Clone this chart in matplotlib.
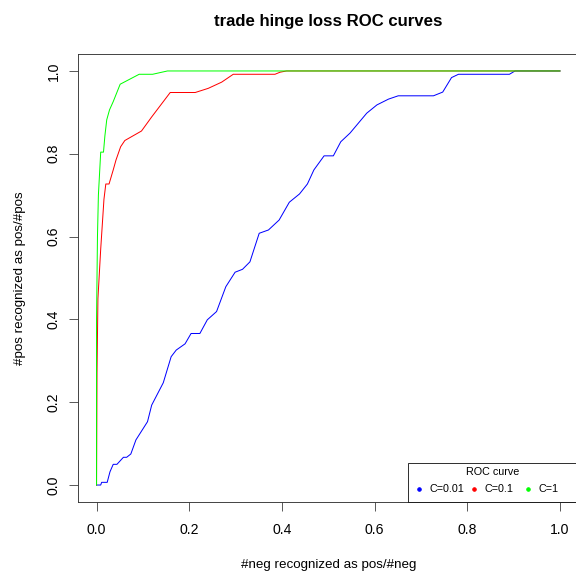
import matplotlib
matplotlib.use("Agg")
import matplotlib.pyplot as plt
from matplotlib.patches import Rectangle

plt.rcParams["font.family"] = ["Liberation Sans", "DejaVu Sans"]

# ROC curves (false positive rate, true positive rate)
fpr_c001 = [0, 0.009, 0.011, 0.023, 0.029, 0.036, 0.044, 0.058, 0.065, 0.074,
            0.085, 0.110, 0.119, 0.144, 0.161, 0.172, 0.191, 0.204, 0.223, 0.239,
            0.259, 0.279, 0.299, 0.315, 0.331, 0.351, 0.371, 0.394, 0.416, 0.438,
            0.455, 0.469, 0.491, 0.511, 0.527, 0.547, 0.583, 0.605, 0.630, 0.651,
            0.727, 0.747, 0.766, 0.781, 0.891, 0.903, 1.0]
tpr_c001 = [0, 0, 0.0065, 0.0065, 0.032, 0.050, 0.050, 0.067, 0.067, 0.075,
            0.109, 0.153, 0.193, 0.247, 0.310, 0.326, 0.341, 0.366, 0.366, 0.399,
            0.419, 0.479, 0.514, 0.521, 0.539, 0.608, 0.616, 0.640, 0.683, 0.703,
            0.727, 0.761, 0.795, 0.795, 0.829, 0.850, 0.898, 0.918, 0.932, 0.940,
            0.940, 0.949, 0.984, 0.992, 0.992, 1.0, 1.0]

fpr_c01 = [0, 0.001, 0.003, 0.009, 0.016, 0.020, 0.027, 0.036, 0.042, 0.052,
           0.061, 0.097, 0.119, 0.159, 0.213, 0.241, 0.270, 0.295, 0.385, 0.396,
           0.41, 1.0]
tpr_c01 = [0, 0.27, 0.45, 0.57, 0.69, 0.727, 0.727, 0.761, 0.785, 0.817,
           0.832, 0.855, 0.889, 0.948, 0.948, 0.958, 0.973, 0.992, 0.992, 0.997,
           1.0, 1.0]

fpr_c1 = [0, 0, 0.002, 0.004, 0.009, 0.015, 0.018, 0.022, 0.028, 0.036,
          0.051, 0.092, 0.121, 0.153, 1.0]
tpr_c1 = [0, 0.40, 0.60, 0.70, 0.804, 0.804, 0.843, 0.882, 0.906, 0.926,
          0.968, 0.992, 0.992, 1.0, 1.0]

labels = ["C=0.01", "C=0.1", "C=1"]
colors = ["blue", "red", "#00ff00"]
ticks = [0.0, 0.2, 0.4, 0.6, 0.8, 1.0]

fig = plt.figure(figsize=(8, 573 / 72), dpi=72)
ax = fig.add_axes([78 / 576, 1 - 501.6 / 573, 500.5 / 576, 447.2 / 573])

ax.plot(fpr_c001, tpr_c001, color=colors[0], lw=1.0)
ax.plot(fpr_c01, tpr_c01, color=colors[1], lw=1.0)
ax.plot(fpr_c1, tpr_c1, color=colors[2], lw=1.0)

ax.set_xlim(-0.04, 1.04)
ax.set_ylim(-0.04, 1.04)
ax.set_xticks(ticks)
ax.set_yticks(ticks)
ax.set_xticklabels([f"{t:.1f}" for t in ticks])
ax.set_yticklabels([f"{t:.1f}" for t in ticks], rotation=90, va="center")
ax.tick_params(length=9, width=0.8, labelsize=14, color="#333333")
ax.tick_params(axis="x", pad=12)
ax.tick_params(axis="y", pad=8)
for s in ax.spines.values():
    s.set_linewidth(0.9)
    s.set_color("#333333")

ax.set_xlabel("#neg recognized as pos/#neg", fontsize=13.4, labelpad=22)
ax.set_ylabel("#pos recognized as pos/#pos", fontsize=13.4, labelpad=21)
ax.set_title("trade hinge loss ROC curves", fontsize=16.8, fontweight="bold", pad=28)

# R-style horizontal legend in the bottom right corner (frame runs off the edge)
ax.add_patch(Rectangle((0.6593, 0), 0.4, 0.0863, transform=ax.transAxes,
                       facecolor="white", edgecolor="black", lw=0.8,
                       clip_on=False, zorder=5))
ax.text(0.8292, 0.0662, "ROC curve", transform=ax.transAxes, fontsize=10.8,
        ha="center", va="center", zorder=6)
dot_x = [0.6813, 0.7912, 0.8991]
for dx, lab, col in zip(dot_x, labels, colors):
    ax.plot([dx], [0.0282], ls="none", marker="o", ms=3.5, color=col,
            transform=ax.transAxes, clip_on=False, zorder=6)
    ax.text(dx + 0.020, 0.0282, lab, transform=ax.transAxes, fontsize=10.8,
            ha="left", va="center", zorder=6)

fig.savefig("out.png", dpi=72)
